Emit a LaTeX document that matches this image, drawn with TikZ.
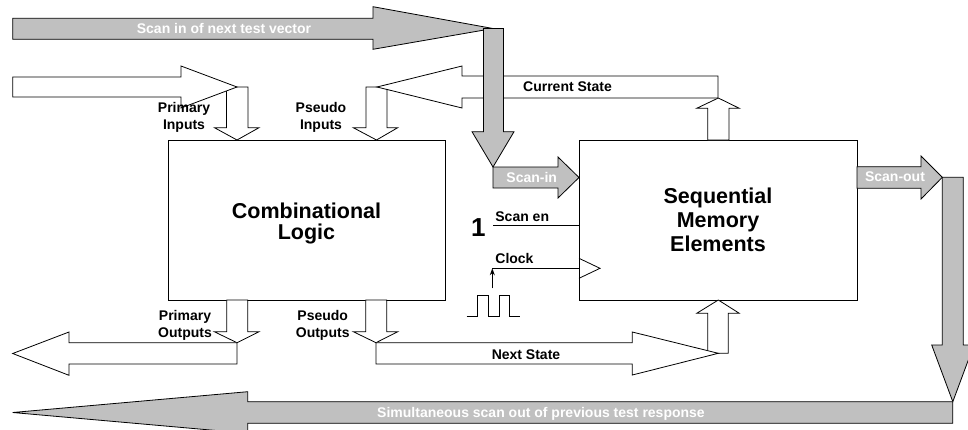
\documentclass[tikz,border=0pt]{standalone}
\usepackage{fontspec}
\setmainfont{Liberation Sans}
\usetikzlibrary{arrows.meta}
\definecolor{scangray}{HTML}{C0C0C0}
\begin{document}
\begin{tikzpicture}[x=1pt, y=-1pt, line width=0.8pt, line join=miter,
  hollow/.style={draw=black, fill=white},
  scanbar/.style={draw=black, fill=scangray},
  wire/.style={draw=black, line width=0.8pt},
  lbl/.style={font=\fontsize{14}{17}\selectfont\bfseries, inner sep=0pt, anchor=base, align=center},
  scanlbl/.style={lbl, text=white},
  block/.style={draw=black, fill=white, inner sep=0pt, minimum height=160pt},
  bigtext/.style={inner sep=0pt, anchor=base, align=center}]
\useasboundingbox (0,0) rectangle (968,429);
\clip (0,0) rectangle (968,429);

% ---- the two main blocks (text anchored on the baseline of its last line)
\node[block, minimum width=277pt] (comb) at (306.5,220) {};
\node[block, minimum width=278pt] (seq)  at (718,220) {};
\node[bigtext, font=\fontsize{21.5}{21}\selectfont\bfseries] (combtxt) at (306.5,239.3) {Combinational\\Logic};
\node[bigtext, font=\fontsize{21.5}{24}\selectfont\bfseries] (seqtxt) at (718,251.7) {Sequential\\Memory\\Elements};

% ---- primary inputs: horizontal feed, then drop into the logic
\draw[hollow] (226.5,87) -- (248,87) -- (248,127.7) -- (259,127.7) -- (237,140)
  -- (214.5,127.7) -- (226.5,127.7) -- cycle;
\draw[hollow] (12.7,77) -- (181,77) -- (181,66) -- (237,87) -- (181,108)
  -- (181,97) -- (12.7,97) -- cycle;

% ---- pseudo inputs fed back from the current state
\draw[hollow] (366,87) -- (387,87) -- (387,127.7) -- (397.7,127.7) -- (376.5,140)
  -- (353.3,127.7) -- (366,127.7) -- cycle;
\draw[hollow] (707.7,140) -- (707.7,108.3) -- (696.7,108.3) -- (718.3,98)
  -- (739.3,108.3) -- (729,108.3) -- (729,140) -- cycle;
\draw[hollow] (718,76) -- (462,76) -- (462,66) -- (377,87) -- (462,108)
  -- (462,98) -- (718,98) -- cycle;

% ---- scan-in path
\draw[scanbar] (12.7,18.3) -- (373,18.3) -- (373,6.7) -- (493,28.5) -- (373,49.3)
  -- (373,39.3) -- (12.7,39.3) -- cycle;
\draw[scanbar] (483.5,28.5) -- (503.5,28.5) -- (503.5,131.7) -- (514,131.7) -- (493,167)
  -- (472,131.7) -- (483.5,131.7) -- cycle;
\draw[scanbar] (493,167) -- (558,167) -- (558,157) -- (579,177.5) -- (558,198)
  -- (558,188) -- (493,188) -- cycle;

% ---- scan-out path
\draw[scanbar] (857,166.7) -- (921,166.7) -- (921,156) -- (942.3,177.3) -- (921,199)
  -- (921,188.3) -- (857,188.3) -- cycle;
\draw[scanbar] (942.3,177.3) -- (963.3,177.3) -- (963.3,345) -- (973.9,345) -- (952.8,401.7)
  -- (931.7,345) -- (942.3,345) -- cycle;
\draw[scanbar] (952.8,401.7) -- (247.7,401.7) -- (247.7,391.7) -- (12.7,412.5) -- (247.7,433.3)
  -- (247.7,423.3) -- (952.8,423.3) -- cycle;

% ---- primary outputs
\draw[hollow] (226.7,300) -- (247.7,300) -- (247.7,331.7) -- (259,331.7) -- (237,342.7)
  -- (214.3,331.7) -- (226.7,331.7) -- cycle;
\draw[hollow] (237,342.7) -- (69,342.7) -- (69,332) -- (12.7,353.5) -- (69,375.3)
  -- (69,364) -- (237,364) -- cycle;

% ---- pseudo outputs become the next state
\draw[hollow] (365.7,300) -- (386.7,300) -- (386.7,331.7) -- (397.7,331.7) -- (376,342.7)
  -- (353.3,331.7) -- (365.7,331.7) -- cycle;
\draw[hollow] (707.7,353.3) -- (707.7,313.3) -- (696.7,313.3) -- (718.3,300)
  -- (739.3,313.3) -- (728.3,313.3) -- (728.3,353.3) -- cycle;
\draw[hollow] (376,342.7) -- (632.3,342.7) -- (632.3,332) -- (718.3,353.3) -- (632.3,375)
  -- (632.3,364) -- (376,364) -- cycle;

% ---- scan enable and clock
\coordinate (enL) at (493.3,225.7);
\coordinate (ckL) at (492.3,268.3);
\coordinate (ckS) at (492.3,288.3);
\draw[wire] (enL) -- (enL -| seq.west);
\draw[wire] (ckL) -- (ckL -| seq.west);
\draw[wire] (579,258.3) -- (600,268.3) -- (579,278.3);
\draw[wire, -{Stealth[length=7pt,width=5pt]}] (ckS) -- (ckL);
\draw[wire] (466.7,316) -- (477.7,316) -- (477.7,295) -- (488.3,295) -- (488.3,316)
  -- (499,316) -- (499,295) -- (509.3,295) -- (509.3,316) -- (520,316);

% ---- labels (two-line labels anchored on their second line)
\node[lbl] (lpi) at (184,129.3) {Primary\\Inputs};
\node[lbl] (lsi) at (321,129.3) {Pseudo\\Inputs};
\node[lbl] (lpo) at (185,337.3) {Primary\\Outputs};
\node[lbl] (lso) at (322.7,337.3) {Pseudo\\Outputs};
\node[lbl] (lcs) at (567.5,91.7) {Current State};
\node[lbl] (lns) at (526,359) {Next State};
\node[lbl, anchor=base west] (len) at (495,221.7) {Scan en};
\node[lbl, anchor=base west] (lck) at (495,263.3) {Clock};
\node[lbl, font=\fontsize{26}{26}\selectfont\bfseries] (lone) at (478.3,236) {1};
\node[scanlbl] (lsv) at (224,33.3) {Scan in of next test vector};
\node[scanlbl] (lsin) at (531.7,182.7) {Scan-in};
\node[scanlbl] (lsout) at (895,181.7) {Scan-out};
\node[scanlbl] (lsr) at (541,417.7) {Simultaneous scan out of previous test response};
\end{tikzpicture}
\end{document}
